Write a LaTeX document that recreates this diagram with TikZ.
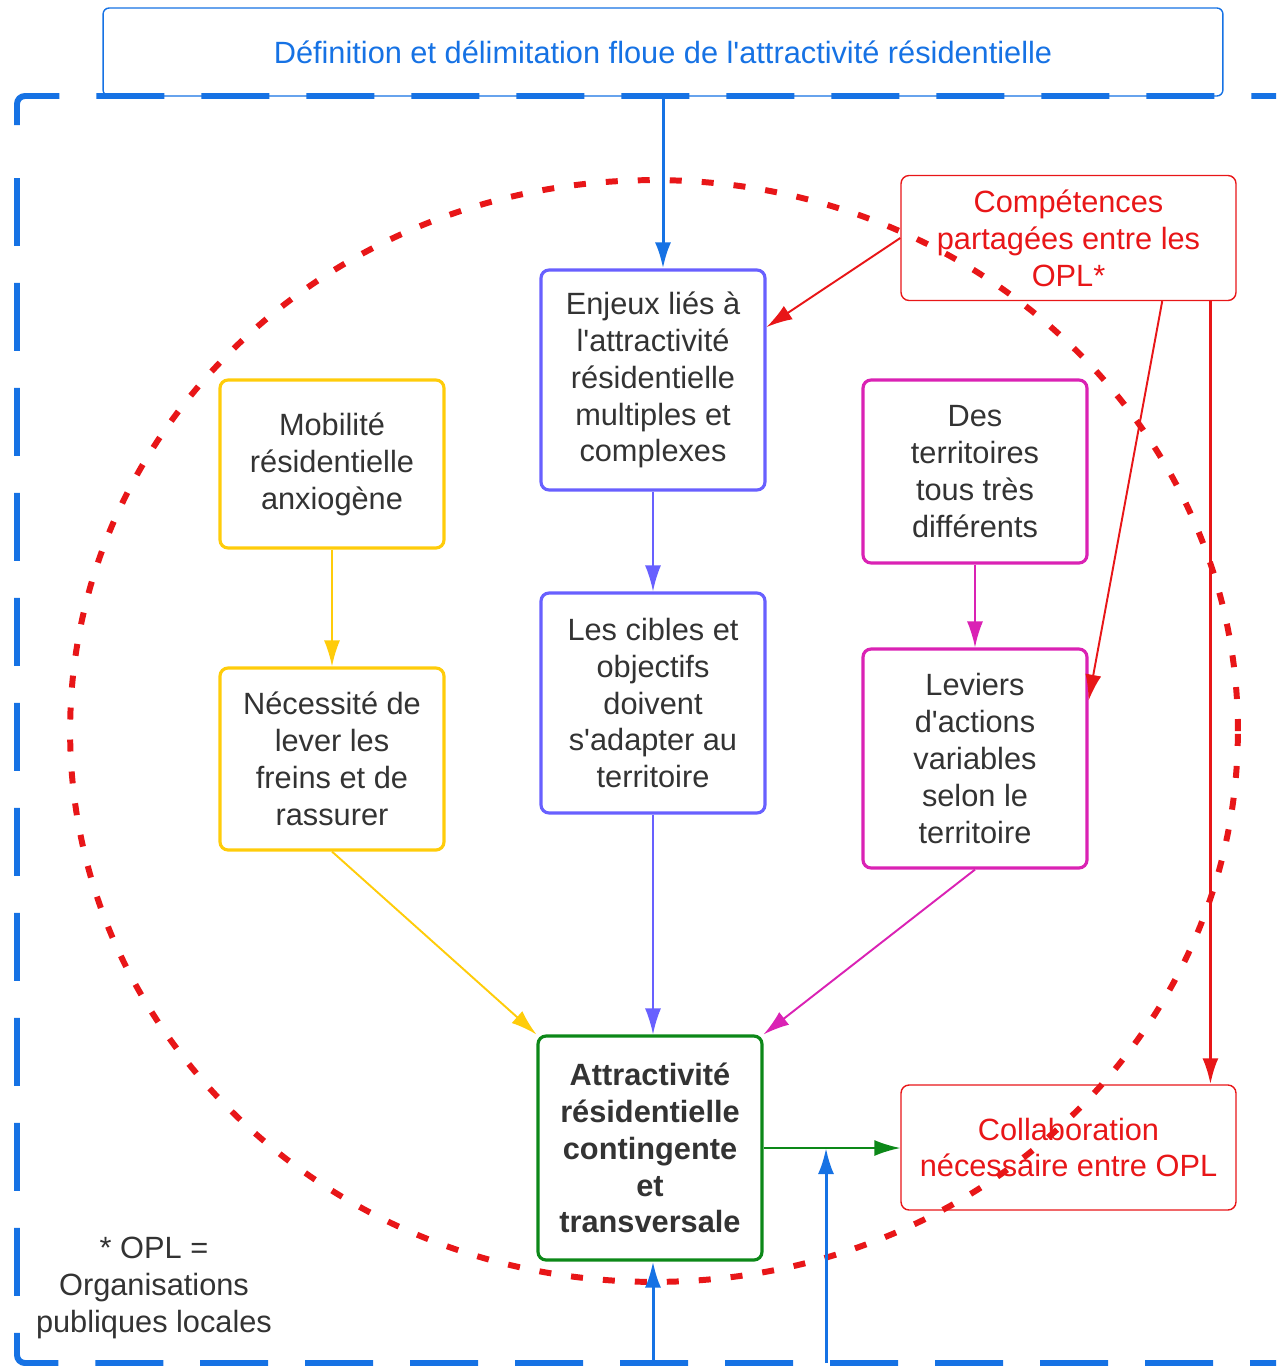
\documentclass[tikz,border=0pt]{standalone}
\usepackage{fontspec}
\setmainfont{Liberation Sans}[Ligatures=TeXOff]
\usetikzlibrary{arrows.meta}
\definecolor{cbleu}{RGB}{22,114,228}
\definecolor{cviolet}{RGB}{104,96,255}
\definecolor{cjaune}{RGB}{255,204,10}
\definecolor{cmagenta}{RGB}{218,34,180}
\definecolor{cvert}{RGB}{12,136,24}
\definecolor{crouge}{RGB}{232,22,24}
\definecolor{cgris}{RGB}{51,51,51}

\begin{document}
\begin{tikzpicture}[x=0.02cm,y=-0.02cm,
  every node/.style={font=\fontsize{17.5}{21}\selectfont,text=cgris,align=center},
  boite/.style={draw,rounded corners=0.16cm,line width=1.8pt,minimum width=4.48cm,inner sep=0pt},
  cadre/.style={draw=crouge,text=crouge,rounded corners=0.16cm,line width=0.8pt,minimum width=6.7cm,minimum height=2.5cm},
  fleche/.style={-{Latex[length=0.52cm,width=0.32cm]},line width=1.1pt}]
\useasboundingbox (0,0) rectangle (1276,1366);
\clip (0,0) rectangle (1276,1366);

\node[draw=cbleu,text=cbleu,rounded corners=0.12cm,line width=0.8pt,minimum width=22.4cm,minimum height=1.76cm] (def) at (663,52) {D\'efinition et d\'elimitation floue de l'attractivit\'e r\'esidentielle};

\node[boite,draw=cviolet,minimum height=4.4cm] (enjeux) at (653,380) {Enjeux li\'es \`a\\l'attractivit\'e\\r\'esidentielle\\multiples et\\complexes};
\node[boite,draw=cviolet,minimum height=4.4cm] (cibles) at (653,703) {Les cibles et\\objectifs\\doivent\\s'adapter au\\territoire};
\node[boite,draw=cjaune,minimum height=3.36cm] (mobilite) at (332,464) {Mobilit\'e\\r\'esidentielle\\anxiog\`ene};
\node[boite,draw=cjaune,minimum height=3.64cm] (necessite) at (332,759) {N\'ecessit\'e de\\lever les\\freins et de\\rassurer};
\node[boite,draw=cmagenta,minimum height=3.66cm] (terr) at (975,471.5) {Des\\territoires\\tous tr\`es\\diff\'erents};
\node[boite,draw=cmagenta,minimum height=4.38cm] (leviers) at (975,758.5) {Leviers\\d'actions\\variables\\selon le\\territoire};
\node[boite,draw=cvert,minimum height=4.48cm,font=\fontsize{17.5}{21}\selectfont\bfseries] (attr) at (650,1148) {Attractivit\'e\\r\'esidentielle\\contingente\\et\\transversale};
\node[cadre] (comp) at (1068.5,238) {Comp\'etences\\partag\'ees entre les\\OPL*};
\node[cadre] (collab) at (1068.5,1147.5) {Collaboration\\n\'ecessaire entre OPL};
\node (opl) at (154,1288) {* OPL =\\Organisations\\publiques locales};

\draw[cbleu,line width=3.4pt,rounded corners=0.16cm,dash pattern=on 1.36cm off 0.74cm] (17,125) -- (17,96) -- (1300,96);
\draw[cbleu,line width=3.4pt,rounded corners=0.16cm,dash pattern=on 1.36cm off 0.74cm] (17,178) -- (17,1363) -- (1300,1363);

\draw[crouge,line width=3.4pt,dash pattern=on 0.24cm off 0.4cm] (654,731) ellipse [x radius=11.68cm,y radius=11.02cm];

\draw[fleche,cbleu,line width=1.7pt] (def.south) -- (def.south |- enjeux.north);
\draw[fleche,cviolet] (enjeux) -- (cibles);
\draw[fleche,cviolet] (cibles.south) -- (cibles.south |- attr.north);
\draw[fleche,cjaune] (mobilite) -- (necessite);
\draw[fleche,cjaune] (necessite.south) -- (attr.north west);
\draw[fleche,cmagenta] (terr) -- (leviers);
\draw[fleche,cmagenta] (leviers.south) -- (attr.north east);
\draw[fleche,cvert] (attr.east) -- (attr.east -| collab.west);
\draw[fleche,crouge] (comp.west) -- (enjeux.25);
\draw[fleche,crouge] (comp.-34) -- (leviers.27);
\draw[fleche,crouge,line width=1.7pt] (comp.-24) -- (comp.-24 |- collab.north);

\coordinate (pied1) at (653,1363);
\coordinate (pied2) at (826,1363);
\draw[fleche,cbleu,line width=1.7pt] (pied1) -- (pied1 |- attr.south);
\draw[fleche,cbleu,line width=1.7pt] (pied2) -- (pied2 |- attr.east);
\end{tikzpicture}
\end{document}
